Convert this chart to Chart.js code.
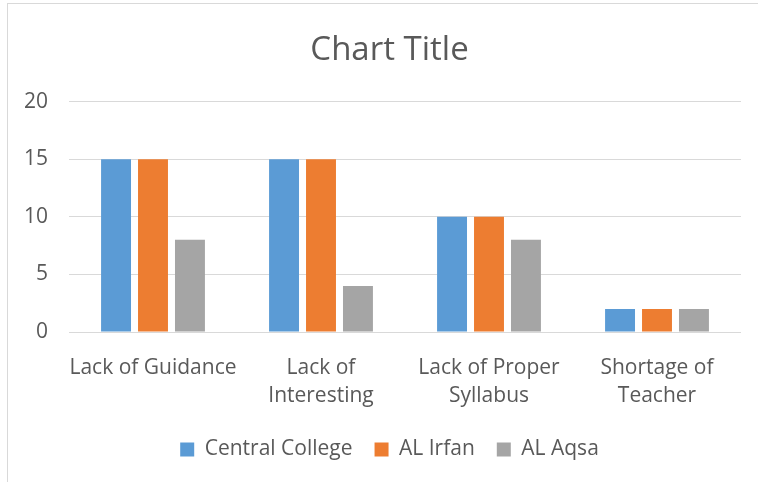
<!DOCTYPE html>
<html>
<head>
<meta charset="utf-8">
<script src="https://cdn.jsdelivr.net/npm/chart.js@4"></script>
<style>
  html, body { margin: 0; padding: 0; background: #fff; overflow: hidden; width: 758px; height: 482px; }
  #frame { position: absolute; left: 7px; top: 3px; width: 800px; height: 600px; border: 1px solid #d9d9d9; }
  #wrap { position: absolute; left: 0; top: 0; width: 779px; height: 482px; }
</style>
</head>
<body>
<div id="frame"></div>
<div id="wrap"><canvas id="chart" width="779" height="482"></canvas></div>
<script>
// ---- DATA ----
const categories = [
  ['Lack of Guidance'],
  ['Lack of', 'Interesting'],
  ['Lack of Proper', 'Syllabus'],
  ['Shortage of', 'Teacher']
];
const centralCollege = [15, 15, 10, 2];
const alIrfan        = [15, 15, 10, 2];
const alAqsa         = [8, 4, 8, 2];
const yTicks         = [0, 5, 10, 15, 20];

const TEXT = '#595959';
const FONT = "'Open Sans', sans-serif";

// canvas is a bit wider than the window so title/legend centre like the original;
// an empty right axis keeps the plot's right edge in place
const ctx = document.getElementById('chart').getContext('2d');
const chart = new Chart(ctx, {
  type: 'bar',
  data: {
    labels: categories,
    datasets: [
      { label: 'Central College', data: centralCollege, backgroundColor: '#5B9BD5' },
      { label: 'AL Irfan',        data: alIrfan,        backgroundColor: '#ED7D31' },
      { label: 'AL Aqsa',         data: alAqsa,         backgroundColor: '#A5A5A5' }
    ]
  },
  options: {
    animation: false,
    responsive: false,
    devicePixelRatio: 1,
    categoryPercentage: 0.66,
    barPercentage: 0.81,
    layout: { padding: { left: 0, right: 0, top: 0, bottom: 12 } },
    scales: {
      x: {
        grid: { display: false },
        border: { display: false },
        ticks: { color: TEXT, font: { family: FONT, size: 21, lineHeight: 1.33 }, padding: 14, maxRotation: 0, autoSkip: false },
        afterFit: s => { s.height = 85; }
      },
      y: {
        min: 0, max: 20,
        afterBuildTicks: s => { s.ticks = yTicks.map(v => ({ value: v })); },
        grid: { color: '#d9d9d9', lineWidth: 1, drawTicks: false },
        border: { display: false },
        ticks: { color: TEXT, font: { family: FONT, size: 21 }, padding: 21 },
        afterFit: s => { s.width = 69; }
      },
      yRight: {
        position: 'right',
        min: 0, max: 20,
        grid: { display: false },
        border: { display: false },
        ticks: { display: false },
        afterFit: s => { s.width = 38; }
      }
    },
    plugins: {
      title: {
        display: true, text: 'Chart Title', color: TEXT,
        font: { family: FONT, size: 33, weight: 'normal' },
        padding: { top: 31, bottom: 31 }
      },
      legend: {
        position: 'bottom',
        labels: { color: TEXT, font: { family: FONT, size: 21 }, boxWidth: 14, boxHeight: 14, padding: 22 }
      },
      tooltip: { enabled: false }
    }
  }
});
</script>
</body>
</html>
